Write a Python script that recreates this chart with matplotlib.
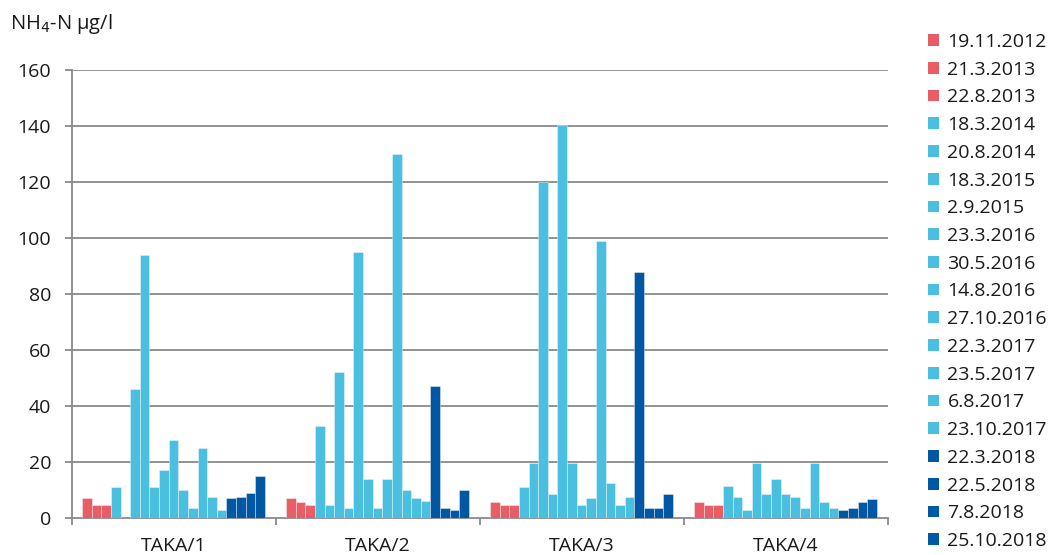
import numpy as np
import matplotlib
matplotlib.use("Agg")
import matplotlib.pyplot as plt
from matplotlib.patches import Patch

plt.rcParams['font.family'] = ['Open Sans', 'DejaVu Sans']

sites = ["TAKA/1", "TAKA/2", "TAKA/3", "TAKA/4"]
dates = ["19.11.2012", "21.3.2013", "22.8.2013", "18.3.2014", "20.8.2014",
         "18.3.2015", "2.9.2015", "23.3.2016", "30.5.2016", "14.8.2016",
         "27.10.2016", "22.3.2017", "23.5.2017", "6.8.2017", "23.10.2017",
         "22.3.2018", "22.5.2018", "7.8.2018", "25.10.2018"]
# values per date, one value per site (TAKA/1..4)
taka1 = [7, 4.5, 4.5, 11, np.nan, 46, 94, 11, 17, 28, 10, 3.5, 25, 7.5, 3, 7, 7.5, 9, 15]
taka2 = [7, 5.6, 4.5, 33, 4.5, 52, 3.5, 95, 14, 3.5, 14, 130, 10, 7, 6, 47, 3.5, 3, 10]
taka3 = [5.6, 4.5, 4.5, 11, 19.5, 120, 8.6, 140.5, 19.5, 4.5, 7, 99, 12.6, 4.5, 7.5, 88, 3.5, 3.5, 8.6]
taka4 = [5.6, 4.5, 4.5, 11.5, 7.5, 3, 19.5, 8.6, 13.8, 8.6, 7.5, 3.5, 19.5, 5.6, 3.5, 3, 3.5, 5.6, 6.8]
yticks = [0, 20, 40, 60, 80, 100, 120, 140, 160]

RED = "#E95D67"
CYAN = "#4BBFE0"
DARK = "#0058A4"
colors = [RED] * 3 + [CYAN] * 12 + [DARK] * 4

data = np.array([taka1, taka2, taka3, taka4])  # shape (sites, dates)

W, H = 1053, 555
fig = plt.figure(figsize=(W / 100, H / 100), dpi=100)
ax = fig.add_axes([72 / W, (H - 518) / H, 816 / W, 448 / H])

n = len(dates)
bw = 0.0472
start = 0.049
for j in range(n):
    xs = np.arange(len(sites)) + start + j * bw
    ax.bar(xs, data[:, j], width=bw, align='edge', color=colors[j],
           edgecolor=(1, 1, 1, 0.45), linewidth=0.6, zorder=3)

grid_c = "#8A8A8A"
ax.set_xlim(0, len(sites))
ax.set_ylim(0, 160)
ax.set_yticks(yticks)
ax.set_yticklabels([str(t) for t in yticks])
for t in yticks[1:]:
    ax.axhline(t, color=grid_c, lw=1.3, zorder=1)

ax.set_xticks(np.arange(len(sites) + 1))
ax.set_xticklabels([])
ax.set_xticks(np.arange(len(sites)) + 0.5, minor=True)
ax.set_xticklabels(sites, minor=True)
ax.tick_params(axis='x', which='major', length=5, width=1.3, color=grid_c, direction='out')
ax.tick_params(axis='x', which='minor', length=0, pad=14, labelsize=14, labelcolor='#1a1a1a')
ax.tick_params(axis='y', length=5, width=1.3, color=grid_c, direction='out', pad=10,
               labelsize=14, labelcolor='#1a1a1a')

for s in ['top', 'right']:
    ax.spines[s].set_visible(False)
for s in ['left', 'bottom']:
    ax.spines[s].set_color(grid_c)
    ax.spines[s].set_linewidth(1.3)

fig.text(10 / W, 1 - 24 / H, "NH$_4$-N µg/l", fontsize=14.5, color='#1a1a1a',
         va='center', ha='left')

handles = [Patch(facecolor=c, edgecolor='none') for c in colors]
leg = fig.legend(handles, dates, loc='upper left', bbox_to_anchor=(928 / W, 1 - 33 / H),
                 frameon=False, fontsize=14, handlelength=0.55, handleheight=0.55,
                 handletextpad=0.45, labelspacing=0.5, borderaxespad=0, borderpad=0)
for t in leg.get_texts():
    t.set_color('#1a1a1a')

fig.savefig("out.png", dpi=100)
